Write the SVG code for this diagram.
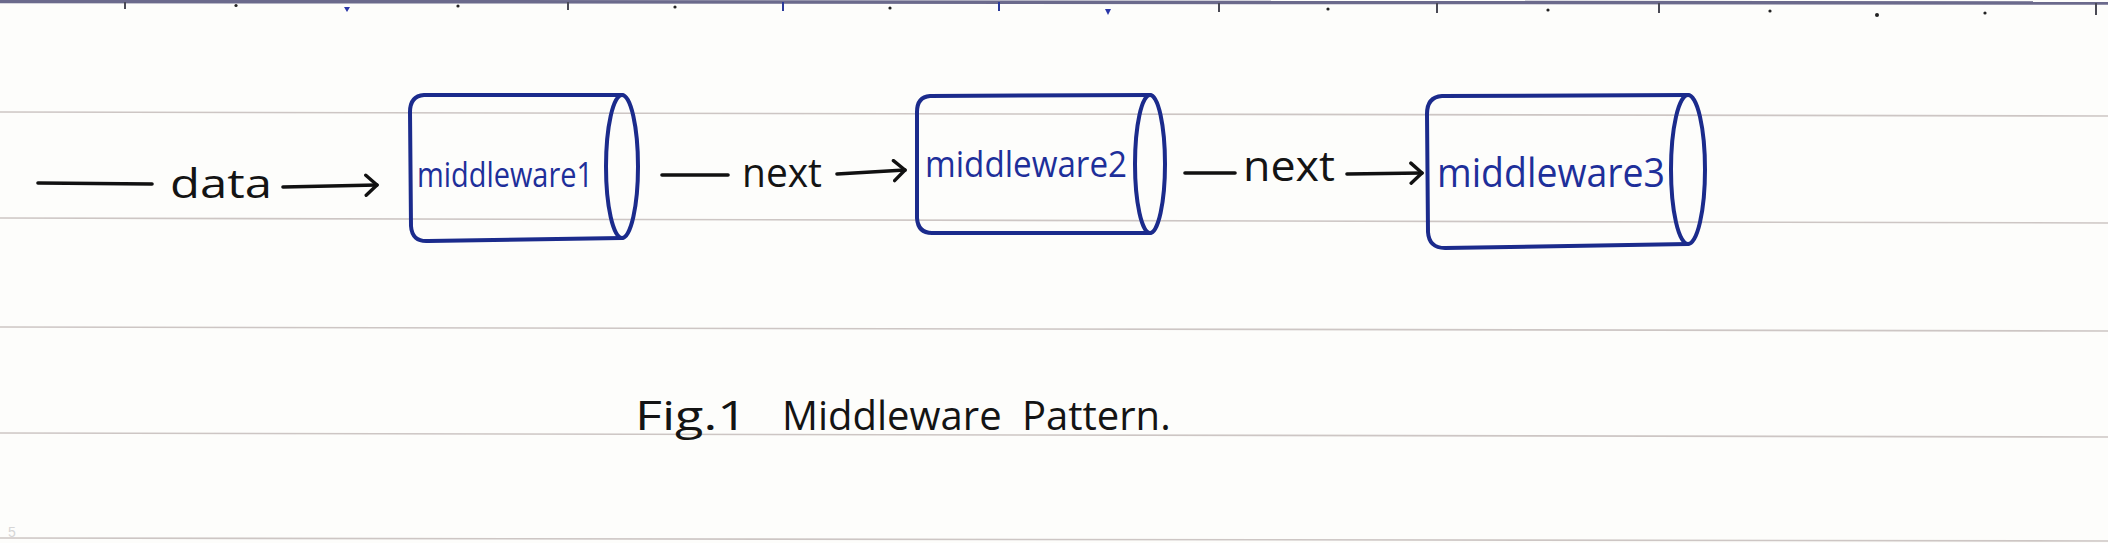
<svg xmlns="http://www.w3.org/2000/svg" width="2108" height="543" viewBox="0 0 2108 543">
<style>
.paper{stroke:#cdc6c4;stroke-width:1.6;fill:none}
.ruler{stroke:#6b6a8c;fill:none}
.tick{stroke:#4a4a55;stroke-width:2}
.btick{stroke:#2a3a9a;stroke-width:2}
.dot{fill:#222}
.bdot{fill:#2a36a8}
.cyl{fill:none;stroke:#1b2b8c;stroke-width:4;stroke-linecap:round;stroke-linejoin:round}
.ink{fill:none;stroke:#111;stroke-width:3.6;stroke-linecap:round}
.lbl{font-family:"Open Sans","Liberation Sans",sans-serif;fill:#141414}
.node{font-family:"Open Sans","Liberation Sans",sans-serif;fill:#1e2f9a}
</style>
<defs>
<marker id="head" markerWidth="16" markerHeight="24" refX="13" refY="12" orient="auto" markerUnits="userSpaceOnUse">
<path d="M2,2 L13,12 L2,22" fill="none" stroke="#111" stroke-width="3.4" stroke-linecap="round" stroke-linejoin="round"/>
</marker>
</defs>
<rect x="0" y="0" width="2108" height="543" fill="#fdfdfb"/>
<g id="paper">
<line class="ruler" x1="0" y1="1.5" x2="2108" y2="3" stroke-width="3.5"/>
<line class="tick" x1="125" y1="2" x2="125" y2="9"/>
<line class="tick" x1="568" y1="2" x2="568" y2="10"/>
<line class="btick" x1="783" y1="2" x2="783" y2="11"/>
<line class="btick" x1="999" y1="2" x2="999" y2="11"/>
<line class="tick" x1="1219" y1="3" x2="1219" y2="12"/>
<line class="tick" x1="1437" y1="3" x2="1437" y2="13"/>
<line class="tick" x1="1659" y1="3" x2="1659" y2="13"/>
<line class="tick" x1="2096" y1="3" x2="2096" y2="15"/>
<circle class="dot" cx="236" cy="5.5" r="1.6"/>
<circle class="dot" cx="458" cy="6" r="1.6"/>
<circle class="dot" cx="675" cy="7" r="1.6"/>
<circle class="dot" cx="890" cy="8" r="1.6"/>
<circle class="dot" cx="1328" cy="9" r="1.6"/>
<circle class="dot" cx="1548" cy="10" r="1.6"/>
<circle class="dot" cx="1770" cy="11" r="1.6"/>
<circle class="dot" cx="1877" cy="15" r="2"/>
<circle class="dot" cx="1985" cy="13" r="1.6"/>
<path class="bdot" d="M344,7 L350,7 L347,12 Z"/>
<path class="bdot" d="M1105,9 L1111,9 L1108,15 Z"/>
<line class="paper" x1="0" y1="112" x2="2108" y2="116"/>
<line class="paper" x1="0" y1="218" x2="2108" y2="223"/>
<line class="paper" x1="0" y1="327" x2="2108" y2="331"/>
<line class="paper" x1="0" y1="433" x2="2108" y2="437"/>
<line class="paper" x1="0" y1="538" x2="2108" y2="541"/>
<text x="8" y="537" font-family="Liberation Sans, sans-serif" font-size="14" fill="#d6d6d6">5</text>
</g>
<g id="connectors">
<line class="ink" x1="38" y1="183" x2="152" y2="184"/>
<text class="lbl" x="170" y="198" font-size="40" textLength="102" lengthAdjust="spacingAndGlyphs">data</text>
<line class="ink" x1="283" y1="187" x2="377" y2="185" marker-end="url(#head)"/>
<line class="ink" x1="662" y1="175" x2="728" y2="175"/>
<text class="lbl" x="742" y="187" font-size="40" textLength="80" lengthAdjust="spacingAndGlyphs">next</text>
<line class="ink" x1="837" y1="174" x2="905" y2="170" marker-end="url(#head)"/>
<line class="ink" x1="1185" y1="173" x2="1235" y2="173"/>
<text class="lbl" x="1243" y="181" font-size="42" textLength="92" lengthAdjust="spacingAndGlyphs">next</text>
<line class="ink" x1="1347" y1="174" x2="1422" y2="173" marker-end="url(#head)"/>
</g>
<g id="middleware1">
<path class="cyl" d="M622,95 L424,95 Q410,96 410,112 L411,226 Q412,242 428,241 L622,238"/>
<ellipse class="cyl" cx="622" cy="166.5" rx="16" ry="71.5"/>
<text class="node" x="417" y="187" font-size="34" textLength="176" lengthAdjust="spacingAndGlyphs">middleware1</text>
</g>
<g id="middleware2">
<path class="cyl" d="M1150,95 L930,96 Q917,97 917,112 L917,218 Q918,233 932,233 L1150,233"/>
<ellipse class="cyl" cx="1150" cy="164" rx="15" ry="69"/>
<text class="node" x="925" y="177" font-size="36" textLength="202" lengthAdjust="spacingAndGlyphs">middleware2</text>
</g>
<g id="middleware3">
<path class="cyl" d="M1688,95 L1442,96 Q1427,97 1427,114 L1428,232 Q1429,248 1445,248 L1688,244"/>
<ellipse class="cyl" cx="1688" cy="169.5" rx="17" ry="74.5"/>
<text class="node" x="1437" y="187" font-size="40" textLength="228" lengthAdjust="spacingAndGlyphs">middleware3</text>
</g>
<g id="caption">
<text class="lbl" y="430" font-size="40"><tspan x="635" textLength="112" lengthAdjust="spacingAndGlyphs">Fig.1</tspan><tspan x="782">Middleware</tspan><tspan x="1022">Pattern.</tspan></text>
</g>
</svg>
